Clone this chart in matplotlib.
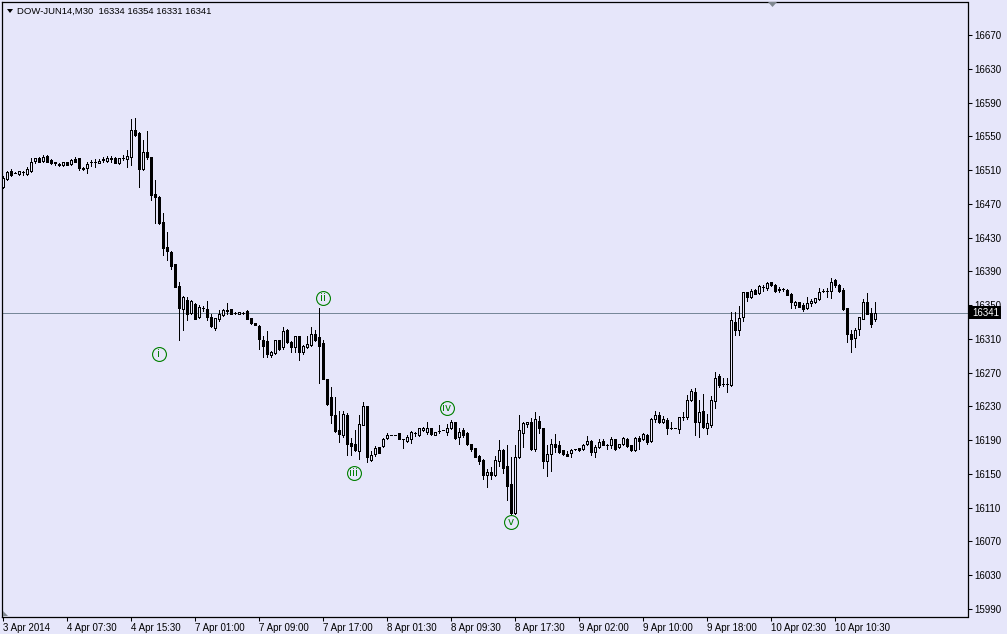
import matplotlib
matplotlib.use("Agg")
import matplotlib.pyplot as plt
from matplotlib.patches import Rectangle, Polygon
from matplotlib.collections import LineCollection
import matplotlib.transforms as mtransforms

# ---------------- data ----------------
symbol = "DOW-JUN14,M30"
last_ohlc = [16334, 16354, 16331, 16341]
bid_price = 16341

opens = [16490, 16500, 16509, 16507, 16505, 16508, 16505, 16509, 16521, 16524,
         16521, 16527, 16522, 16519, 16517, 16516, 16519, 16517, 16523, 16524,
         16513, 16512, 16519, 16519, 16518, 16522, 16521, 16524, 16524, 16518,
         16524, 16523, 16526, 16557, 16554, 16511, 16532, 16525, 16482, 16478,
         16448, 16419, 16413, 16399, 16373, 16346, 16356, 16341, 16351, 16336,
         16347, 16346, 16336, 16323, 16333, 16338, 16344, 16345, 16341, 16340,
         16341, 16343, 16335, 16329, 16325, 16309, 16307, 16291, 16293, 16309,
         16300, 16320, 16306, 16301, 16313, 16295, 16300, 16303, 16316, 16312,
         16305, 16263, 16241, 16220, 16202, 16196, 16220, 16187, 16185, 16177,
         16208, 16230, 16166, 16174, 16182, 16183, 16193, 16196, 16196, 16199,
         16191, 16189, 16192, 16198, 16196, 16202, 16200, 16204, 16196, 16201,
         16202, 16200, 16204, 16211, 16194, 16202, 16199, 16185, 16181, 16171,
         16167, 16149, 16152, 16149, 16165, 16178, 16160, 16138, 16104, 16170,
         16199, 16209, 16212, 16179, 16213, 16204, 16165, 16174, 16186, 16184,
         16178, 16174, 16175, 16179, 16181, 16179, 16185, 16189, 16176, 16182,
         16189, 16184, 16184, 16191, 16182, 16185, 16192, 16184, 16178, 16193,
         16191, 16196, 16189, 16215, 16220, 16211, 16214, 16204, 16204, 16203,
         16217, 16217, 16238, 16247, 16211, 16224, 16205, 16208, 16237, 16266,
         16257, 16256, 16255, 16330, 16320, 16336, 16365, 16360, 16368, 16364,
         16371, 16370, 16377, 16374, 16369, 16369, 16368, 16363, 16350, 16354,
         16350, 16347, 16352, 16354, 16357, 16367, 16367, 16367, 16380, 16374,
         16368, 16347, 16316, 16311, 16322, 16334, 16354, 16341, 16334]
highs = [16503, 16509, 16511, 16508, 16509, 16509, 16514, 16524, 16524, 16526,
         16528, 16528, 16523, 16520, 16518, 16520, 16519, 16523, 16525, 16524,
         16514, 16520, 16522, 16523, 16523, 16525, 16527, 16527, 16525, 16524,
         16528, 16534, 16570, 16572, 16555, 16546, 16556, 16525, 16498, 16479,
         16459, 16437, 16414, 16399, 16377, 16361, 16360, 16356, 16352, 16350,
         16349, 16355, 16340, 16335, 16344, 16345, 16353, 16345, 16342, 16342,
         16342, 16344, 16335, 16329, 16326, 16314, 16319, 16296, 16309, 16309,
         16324, 16322, 16307, 16314, 16314, 16303, 16313, 16324, 16321, 16347,
         16309, 16263, 16253, 16241, 16225, 16224, 16222, 16193, 16202, 16220,
         16235, 16231, 16177, 16183, 16182, 16193, 16198, 16196, 16196, 16199,
         16192, 16196, 16201, 16200, 16205, 16206, 16211, 16205, 16200, 16208,
         16202, 16209, 16214, 16212, 16204, 16204, 16200, 16186, 16181, 16172,
         16168, 16156, 16158, 16171, 16190, 16179, 16184, 16170, 16184, 16220,
         16212, 16212, 16216, 16223, 16219, 16204, 16184, 16191, 16197, 16189,
         16178, 16177, 16180, 16180, 16181, 16186, 16195, 16190, 16184, 16191,
         16191, 16186, 16194, 16192, 16186, 16194, 16193, 16184, 16194, 16195,
         16198, 16197, 16216, 16224, 16223, 16219, 16216, 16211, 16204, 16218,
         16223, 16243, 16251, 16252, 16238, 16245, 16221, 16242, 16271, 16269,
         16264, 16264, 16342, 16342, 16349, 16366, 16366, 16369, 16369, 16374,
         16374, 16377, 16377, 16375, 16371, 16370, 16369, 16364, 16355, 16354,
         16352, 16360, 16357, 16359, 16370, 16369, 16370, 16382, 16381, 16375,
         16370, 16347, 16321, 16323, 16336, 16357, 16364, 16347, 16354]
lows = [16489, 16498, 16503, 16506, 16504, 16504, 16504, 16508, 16518, 16520,
        16520, 16520, 16517, 16516, 16515, 16515, 16516, 16516, 16520, 16510,
        16510, 16507, 16515, 16514, 16518, 16520, 16520, 16519, 16518, 16517,
        16522, 16514, 16516, 16550, 16490, 16510, 16523, 16475, 16447, 16446,
        16409, 16404, 16393, 16371, 16309, 16321, 16332, 16340, 16333, 16335,
        16343, 16332, 16324, 16321, 16331, 16337, 16340, 16339, 16340, 16340,
        16340, 16333, 16328, 16326, 16298, 16289, 16289, 16288, 16292, 16297,
        16298, 16305, 16294, 16294, 16285, 16292, 16299, 16302, 16308, 16258,
        16262, 16232, 16210, 16200, 16188, 16194, 16172, 16172, 16177, 16168,
        16208, 16164, 16165, 16171, 16175, 16182, 16192, 16196, 16196, 16192,
        16181, 16188, 16187, 16195, 16195, 16201, 16197, 16196, 16196, 16198,
        16202, 16196, 16203, 16191, 16186, 16194, 16184, 16177, 16170, 16162,
        16144, 16134, 16144, 16148, 16159, 16151, 16119, 16103, 16103, 16169,
        16182, 16206, 16178, 16177, 16198, 16157, 16147, 16153, 16176, 16175,
        16173, 16171, 16170, 16178, 16177, 16178, 16184, 16173, 16170, 16181,
        16184, 16179, 16181, 16178, 16181, 16184, 16182, 16177, 16177, 16179,
        16190, 16186, 16188, 16211, 16210, 16210, 16197, 16203, 16204, 16199,
        16214, 16215, 16237, 16196, 16194, 16205, 16197, 16206, 16228, 16253,
        16254, 16247, 16254, 16315, 16315, 16331, 16355, 16359, 16363, 16363,
        16367, 16368, 16373, 16366, 16366, 16367, 16362, 16347, 16347, 16348,
        16343, 16346, 16349, 16353, 16356, 16366, 16360, 16358, 16371, 16366,
        16344, 16306, 16295, 16301, 16315, 16333, 16339, 16324, 16331]
closes = [16501, 16508, 16504, 16507, 16509, 16508, 16511, 16520, 16524, 16520,
          16525, 16520, 16518, 16518, 16516, 16519, 16516, 16522, 16520, 16512,
          16511, 16517, 16519, 16520, 16521, 16523, 16524, 16523, 16518, 16524,
          16524, 16527, 16558, 16551, 16511, 16531, 16526, 16480, 16478, 16447,
          16418, 16414, 16396, 16372, 16347, 16360, 16340, 16355, 16334, 16348,
          16347, 16336, 16325, 16335, 16339, 16344, 16343, 16340, 16341, 16342,
          16341, 16334, 16329, 16326, 16310, 16302, 16292, 16294, 16309, 16298,
          16319, 16306, 16300, 16313, 16295, 16302, 16304, 16316, 16309, 16302,
          16263, 16233, 16220, 16201, 16197, 16221, 16185, 16183, 16178, 16209,
          16231, 16170, 16172, 16181, 16175, 16192, 16196, 16196, 16196, 16192,
          16191, 16194, 16200, 16198, 16204, 16205, 16204, 16197, 16200, 16201,
          16202, 16205, 16211, 16193, 16200, 16196, 16185, 16179, 16170, 16165,
          16149, 16152, 16149, 16166, 16178, 16157, 16136, 16104, 16170, 16202,
          16210, 16211, 16179, 16215, 16204, 16165, 16174, 16186, 16182, 16176,
          16174, 16171, 16178, 16179, 16178, 16184, 16189, 16176, 16182, 16188,
          16184, 16184, 16192, 16179, 16185, 16193, 16183, 16178, 16193, 16189,
          16197, 16188, 16215, 16220, 16211, 16215, 16204, 16204, 16204, 16218,
          16218, 16238, 16248, 16211, 16223, 16206, 16210, 16238, 16264, 16255,
          16256, 16256, 16332, 16321, 16335, 16365, 16360, 16367, 16363, 16373,
          16372, 16376, 16374, 16367, 16368, 16369, 16362, 16354, 16354, 16348,
          16346, 16352, 16355, 16358, 16366, 16367, 16367, 16378, 16374, 16367,
          16346, 16316, 16310, 16321, 16336, 16354, 16340, 16328, 16341]

time_labels = ["3 Apr 2014", "4 Apr 07:30", "4 Apr 15:30", "7 Apr 01:00",
               "7 Apr 09:00", "7 Apr 17:00", "8 Apr 01:30", "8 Apr 09:30",
               "8 Apr 17:30", "9 Apr 02:00", "9 Apr 10:00", "9 Apr 18:00",
               "10 Apr 02:30", "10 Apr 10:30"]
time_label_bars = [0, 16, 32, 48, 64, 80, 96, 112, 128, 144, 160, 176, 192, 208]
price_ticks = [15990, 16030, 16070, 16110, 16150, 16190, 16230, 16270, 16310,
               16350, 16390, 16430, 16470, 16510, 16550, 16590, 16630, 16670]

wave_labels = ["i", "ii", "iii", "iv", "v"]
wave_bars = [39, 80, 87.75, 111, 127]
wave_prices = [16292, 16358, 16151, 16228, 16093]

# ---------------- style ----------------
BG = "#E6E6FA"
GREEN = "#008000"
W, H = 1007, 634
FONT = "Liberation Sans"
LW = 0.55  # ~1 device pixel

fig = plt.figure(figsize=(W / 100, H / 100), dpi=100)
fig.patch.set_facecolor(BG)
ax = fig.add_axes([2 / W, 1 - 616.5 / H, 965.5 / W, 614.5 / H])
ax.set_facecolor(BG)

n = len(opens)
ax.set_xlim(-0.25, -0.25 + 965.5 / 4)
ax.set_ylim(16711.5 - 1.1847 * 616.5, 16711.5 - 1.1847 * 2)

# wicks
segs = [[(i, lows[i]), (i, highs[i])] for i in range(n)]
ax.add_collection(LineCollection(segs, colors="black", linewidths=LW,
                                 antialiaseds=False, zorder=3))
# bodies
for i in range(n):
    o, c = opens[i], closes[i]
    bottom = min(o, c)
    h = abs(c - o)
    fc = BG if c >= o else "black"
    r = Rectangle((i - 0.25, bottom), 0.5, h, facecolor=fc, edgecolor="black",
                  linewidth=LW, antialiased=False, zorder=4)
    ax.add_patch(r)

# bid line
ax.axhline(bid_price, color="#778899", lw=LW, zorder=2, antialiased=False)

# wave labels
for lab, xb, yp in zip(wave_labels, wave_bars, wave_prices):
    ax.plot([xb], [yp], marker="o", ms=10, mfc="none", mec=GREEN, mew=0.8,
            zorder=6)
    ax.text(xb, yp, lab, color=GREEN, fontsize=7.5, ha="center", va="center",
            family="DejaVu Sans", zorder=7)

# axes
for s in ax.spines.values():
    s.set_color("black")
    s.set_linewidth(0.9)

ax.yaxis.tick_right()
ax.set_yticks(price_ticks)
ax.set_yticklabels([str(p) for p in price_ticks], fontsize=7, family=FONT)
ax.tick_params(axis="y", direction="out", length=3, width=0.75, pad=2,
               colors="black")
for t in ax.get_yticklabels():
    t.set_horizontalalignment("left")

ax.set_xticks(time_label_bars)
ax.set_xticklabels(time_labels, fontsize=7, family=FONT)
ax.tick_params(axis="x", direction="out", length=3, width=0.75, pad=2,
               colors="black")
for t in ax.get_xticklabels():
    t.set_horizontalalignment("left")

# bid box on the price scale
trans = mtransforms.blended_transform_factory(ax.transAxes, ax.transData)
axw = 965.5
box_h = 13 * 1.1847
ax.add_patch(Rectangle((1 + 1.5 / axw, bid_price - box_h / 2), 32 / axw, box_h,
                       transform=trans, facecolor="black", edgecolor="none",
                       clip_on=False, zorder=10))
ax.text(1 + 5 / axw, bid_price, str(bid_price), transform=trans, color="white",
        fontsize=7, family=FONT, ha="left", va="center", clip_on=False,
        zorder=11)

# header
fig.text(17 / W, 1 - 11.5 / H,
         symbol + "  " + " ".join(str(v) for v in last_ohlc),
         fontsize=6.8, family=FONT, ha="left", va="center", color="black")
fig.add_artist(Polygon([[7 / W, 1 - 9 / H], [13 / W, 1 - 9 / H],
                        [10 / W, 1 - 13 / H]], closed=True,
                       transform=fig.transFigure, facecolor="black",
                       edgecolor="none"))
# chart shift marker (top) and chart-end marker (bottom-left)
fig.add_artist(Polygon([[768 / W, 1 - 2 / H], [777 / W, 1 - 2 / H],
                        [772.5 / W, 1 - 7 / H]], closed=True,
                       transform=fig.transFigure, facecolor="#808890",
                       edgecolor="none"))
fig.add_artist(Polygon([[3 / W, 1 - 611 / H], [3 / W, 1 - 616 / H],
                        [8 / W, 1 - 616 / H]], closed=True,
                       transform=fig.transFigure, facecolor="#808890",
                       edgecolor="none"))

fig.savefig("out.png", dpi=100, facecolor=BG)
